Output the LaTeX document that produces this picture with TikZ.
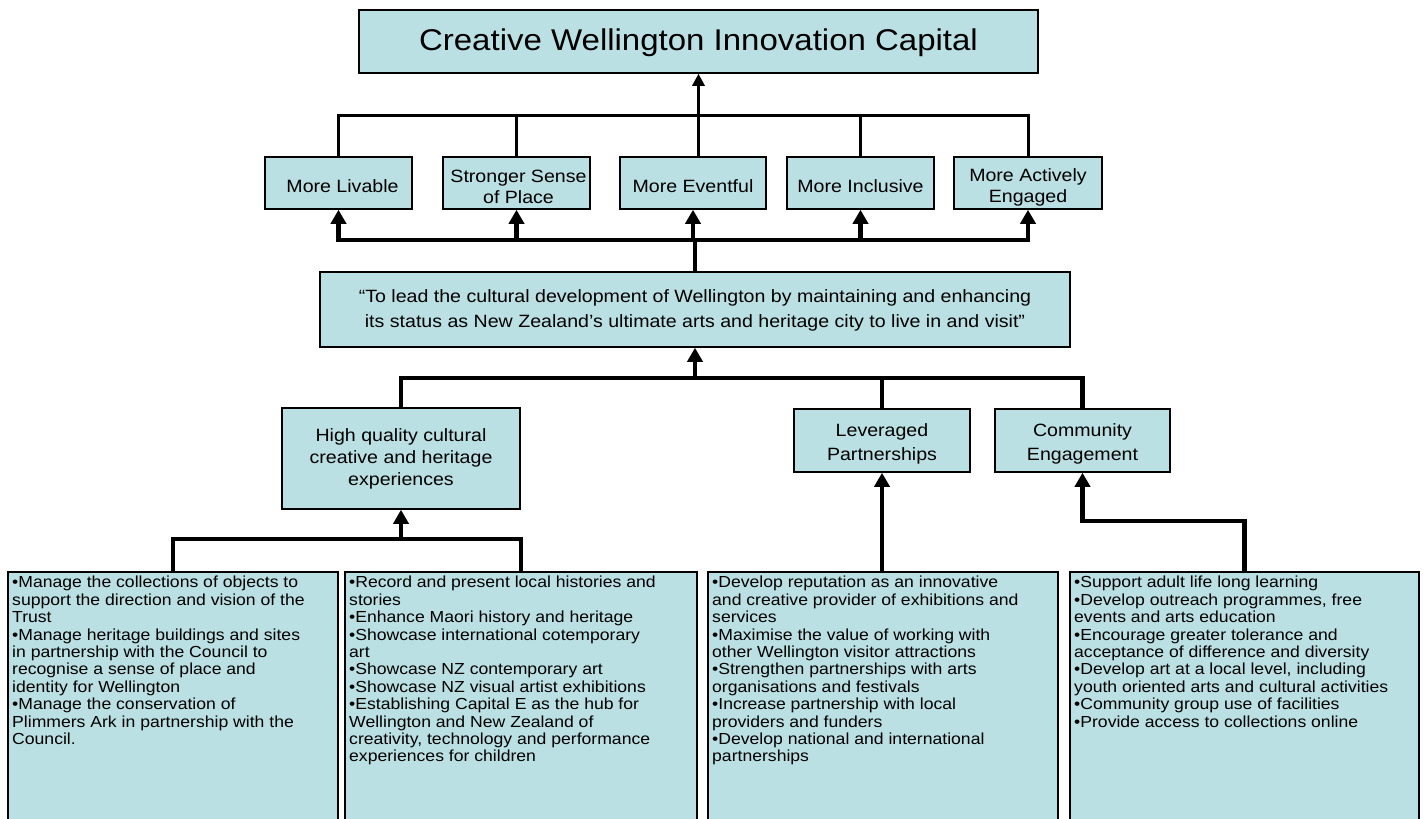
\documentclass[tikz,border=0pt]{standalone}
\usepackage{fontspec}
\setmainfont{Liberation Sans}[FakeStretch=1.1]
\usetikzlibrary{arrows.meta,calc}
\definecolor{boxfill}{RGB}{187,224,227}
\tikzset{
  box/.style={draw=black, line width=1.5pt, fill=boxfill, inner sep=0pt},
  boxtext/.style={inner sep=0pt, align=center, font=\fontsize{17.8}{21}\selectfont},
  listbox/.style={draw=black, line width=1.5pt, fill=boxfill, inner sep=0pt, anchor=north west,
    minimum height=270pt},
  listtext/.style={anchor=north west, inner sep=0pt, align=left,
    font=\fontsize{16}{17.4}\selectfont},
  thinline/.style={line width=3pt},
  thickline/.style={line width=4.5pt},
  arrowthin/.style={thinline, -{Triangle[width=12pt,length=12pt]}},
  arrowthick/.style={thickline, -{Triangle[width=15pt,length=14pt]}},
}
\begin{document}
\begin{tikzpicture}[x=1pt,y=-1pt]
\clip (0,0) rectangle (1428,819);
\fill[white] (0,0) rectangle (1428,819);
% coordinates of the bars
\coordinate (bar1) at (0,115);
\coordinate (bar2) at (0,240);
\coordinate (bar3) at (0,378);
\coordinate (bar4) at (0,539);
\coordinate (elb) at (0,521);
% top
\node[box, minimum width=679pt, minimum height=63pt] (top) at (698.5,41.5) {};
\node[boxtext, font=\fontsize{30}{36}\selectfont] (topt) at ($(top.center)+(0,1)$) {Creative Wellington Innovation Capital};
% outcomes
\node[box, minimum width=147pt, minimum height=52pt] (liv) at (338.5,183) {};
\node[box, minimum width=147pt, minimum height=52pt] (str) at (516.5,183) {};
\node[box, minimum width=146pt, minimum height=52pt] (eve) at (693,183) {};
\node[box, minimum width=147pt, minimum height=52pt] (inc) at (860.5,183) {};
\node[box, minimum width=148pt, minimum height=52pt] (act) at (1028,183) {};
\node[boxtext] (livt) at ($(liv.center)+(4,3)$) {More Livable};
\node[boxtext] (strt) at ($(str.center)+(2,4)$) {Stronger Sense\\of Place};
\node[boxtext] (evet) at ($(eve.center)+(0,3)$) {More Eventful};
\node[boxtext] (inct) at ($(inc.center)+(0,3)$) {More Inclusive};
\node[boxtext] (actt) at ($(act.center)+(0,4)$) {More Actively\\Engaged};
% vision
\node[box, minimum width=750pt, minimum height=75pt] (vis) at (695,309.5) {};
\node[boxtext, font=\fontsize{17.8}{24.5}\selectfont] (vist) at ($(vis.center)+(0,1)$) {\textquotedblleft To lead the cultural development of Wellington by maintaining and enhancing\\its status as New Zealand\textquoteright s ultimate arts and heritage city to live in and visit\textquotedblright};
% goals
\node[box, minimum width=238pt, minimum height=101pt] (hq) at (401,458.5) {};
\node[box, minimum width=176pt, minimum height=63pt] (lev) at (882,440.5) {};
\node[box, minimum width=175pt, minimum height=63pt] (com) at (1082.5,440.5) {};
\node[boxtext, font=\fontsize{17.8}{22}\selectfont] (hqt) at (hq.center) {High quality cultural\\creative and heritage\\experiences};
\node[boxtext, font=\fontsize{17.8}{24}\selectfont] (levt) at ($(lev.center)+(0,3)$) {Leveraged\\Partnerships};
\node[boxtext, font=\fontsize{17.8}{24}\selectfont] (comt) at ($(com.center)+(0,3)$) {Community\\Engagement};
% lists
\node[listbox, minimum width=330pt] (b1) at (7,571) {};
\node[listbox, minimum width=352pt] (b2) at (344,571) {};
\node[listbox, minimum width=350pt] (b3) at (707,571) {};
\node[listbox, minimum width=349pt] (b4) at (1069,571) {};
\node[listtext] (t1) at ($(b1.north west)+(5,5)$) {\textbullet Manage the collections of objects to\\support the direction and vision of the\\Trust\\\textbullet Manage heritage buildings and sites\\in partnership with the Council to\\recognise a sense of place and\\identity for Wellington\\\textbullet Manage the conservation of\\Plimmers Ark in partnership with the\\Council.};
\node[listtext] (t2) at ($(b2.north west)+(5,5)$) {\textbullet Record and present local histories and\\stories\\\textbullet Enhance Maori history and heritage\\\textbullet Showcase international cotemporary\\art\\\textbullet Showcase NZ contemporary art\\\textbullet Showcase NZ visual artist exhibitions\\\textbullet Establishing Capital E as the hub for\\Wellington and New Zealand of\\creativity, technology and performance\\experiences for children};
\node[listtext] (t3) at ($(b3.north west)+(5,5)$) {\textbullet Develop reputation as an innovative\\and creative provider of exhibitions and\\services\\\textbullet Maximise the value of working with\\other Wellington visitor attractions\\\textbullet Strengthen partnerships with arts\\organisations and festivals\\\textbullet Increase partnership with local\\providers and funders\\\textbullet Develop national and international\\partnerships};
\node[listtext] (t4) at ($(b4.north west)+(5,5)$) {\textbullet Support adult life long learning\\\textbullet Develop outreach programmes, free\\events and arts education\\\textbullet Encourage greater tolerance and\\acceptance of difference and diversity\\\textbullet Develop art at a local level, including\\youth oriented arts and cultural activities\\\textbullet Community group use of facilities\\\textbullet Provide access to collections online};
% level 1 connectors
\draw[thinline] (liv.north) -- (liv.north |- bar1) -- (act.north |- bar1) -- (act.north);
\draw[thinline] (str.north) -- (str.north |- bar1);
\draw[thinline] (inc.north) -- (inc.north |- bar1);
\draw[arrowthin] (eve.north -| top.south) -- (top.south);
% level 2 connectors
\draw[thickline] (vis.north) -- (vis.north |- bar2);
\draw[arrowthick] (vis.north |- bar2) -| (liv.south);
\draw[arrowthick] (vis.north |- bar2) -| (act.south);
\draw[arrowthick] (str.south |- bar2) -- (str.south);
\draw[arrowthick] (eve.south |- bar2) -- (eve.south);
\draw[arrowthick] (inc.south |- bar2) -- (inc.south);
% level 3 connectors
\draw[thickline] (hq.north) |- (com.north |- bar3) -- (com.north);
\draw[thickline] (lev.north) -- (lev.north |- bar3);
\draw[arrowthick] (vis.south |- bar3) -- (vis.south);
% level 4 connectors
\draw[thickline] (b1.north) |- (b2.north |- bar4) -- (b2.north);
\draw[arrowthick] (hq.south |- bar4) -- (hq.south);
\draw[arrowthick] (lev.south |- b3.north) -- (lev.south);
\draw[arrowthick] (b4.north) -- (b4.north |- elb) -| (com.south);
\end{tikzpicture}
\end{document}
